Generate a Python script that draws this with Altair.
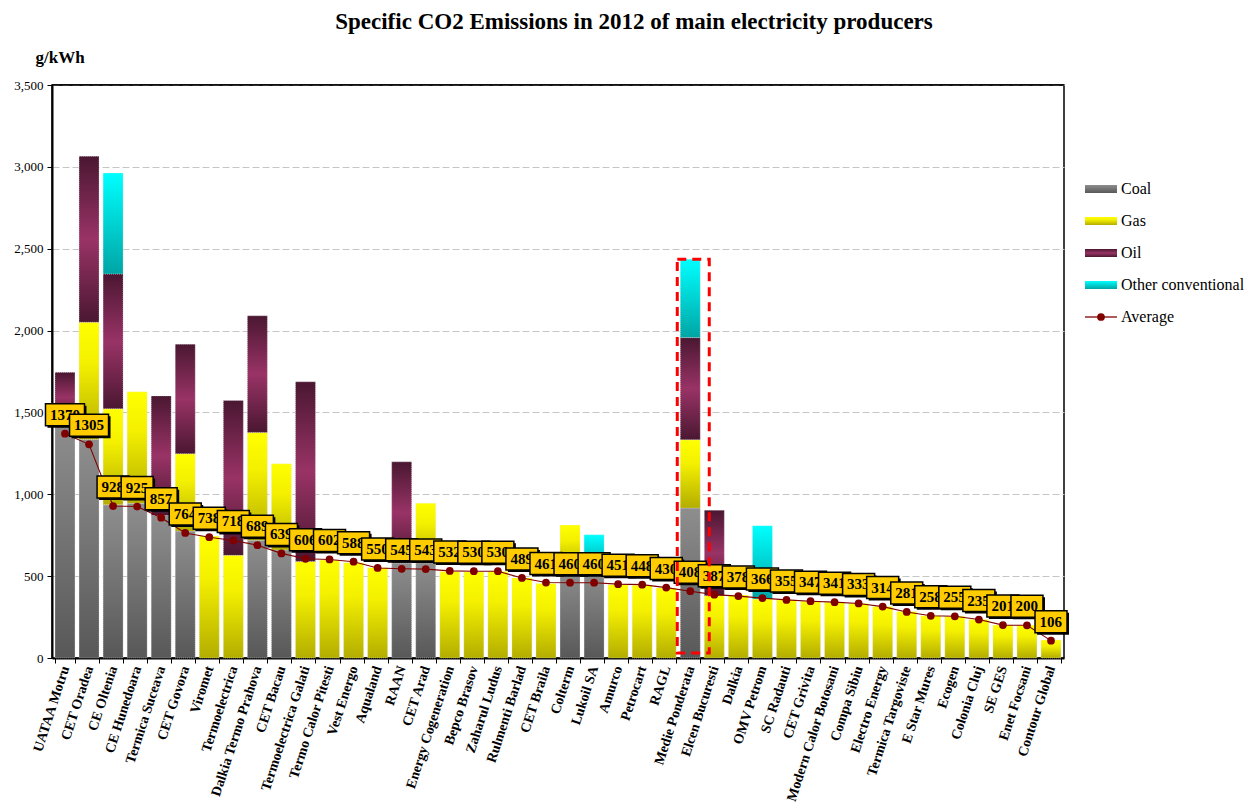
import altair as alt
import pandas as pd

# Producers, in the order plotted
names = [
    "UATAA Motru", "CET Oradea", "CE Oltenia", "CE Hunedoara", "Termica Suceava",
    "CET Govora", "Viromet", "Termoelectrica", "Dalkia Termo Prahova", "CET Bacau",
    "Termoelectrica Galati", "Termo Calor Pitesti", "Vest Energo", "Aqualand", "RAAN",
    "CET Arad", "Energy Cogeneration", "Bepco Brasov", "Zaharul Ludus", "Rulmenti Barlad",
    "CET Braila", "Colterm", "Lukoil SA", "Amurco", "Petrocart", "RAGL",
    "Medie Ponderata", "Elcen Bucuresti", "Dalkia", "OMV Petrom", "SC Radauti",
    "CET Grivita", "Modern Calor Botosani", "Compa Sibiu", "Electro Energy",
    "Termica Targoviste", "E Star Mures", "Ecogen", "Colonia Cluj", "SE GES",
    "Enet Focsani", "Contour Global",
]

# Average specific emissions (g/kWh)
average = [
    1370, 1305, 928, 925, 857, 764, 738, 718, 689, 639, 606, 602, 588, 550, 545,
    543, 532, 530, 530, 489, 461, 460, 460, 451, 448, 430, 408, 387, 378, 366,
    355, 347, 341, 333, 314, 281, 258, 255, 235, 201, 200, 106,
]

# Specific emissions by fuel (g/kWh), stacked in this order
coal = [
    1440, 1335, 936, 945, 870, 775, 0, 0, 720, 660, 0, 0, 0, 0, 580,
    582, 0, 0, 0, 0, 0, 540, 540, 0, 0, 0, 916, 0, 0, 0,
    0, 0, 0, 0, 0, 0, 0, 0, 0, 0, 0, 0,
]
gas = [
    0, 716, 586, 681, 0, 472, 745, 627, 658, 526, 590, 598, 582, 552, 0,
    364, 528, 526, 528, 489, 455, 272, 0, 448, 445, 427, 417, 380, 385, 360,
    355, 347, 341, 333, 314, 284, 258, 255, 235, 201, 200, 110,
]
oil = [
    305, 1014, 824, 0, 731, 670, 0, 946, 712, 0, 1097, 0, 0, 0, 618,
    0, 0, 0, 0, 0, 0, 0, 0, 0, 0, 0, 624, 523, 0, 0,
    0, 0, 0, 0, 0, 0, 0, 0, 0, 0, 0, 0,
]
other = [
    0, 0, 616, 0, 0, 0, 0, 0, 0, 0, 0, 0, 0, 0, 0,
    0, 0, 0, 0, 0, 0, 0, 213, 0, 0, 0, 479, 0, 0, 448,
    0, 0, 0, 0, 0, 0, 0, 0, 0, 0, 0, 0,
]

fuels = ["Coal", "Gas", "Oil", "Other conventional"]
highlighted = "Medie Ponderata"
highlight_floor = 30

SERIF = "Liberation Serif"
AVG_COLOR = "#800000"
PLOT_W, PLOT_H = 1012, 573


def vgrad(stops):
    return alt.LinearGradient(
        gradient="linear", x1=0, y1=0, x2=0, y2=1,
        stops=[alt.GradientStop(offset=o, color=c) for o, c in stops],
    )


fills = {
    "Coal": vgrad([(0, "#8e8e8e"), (1, "#585858")]),
    "Gas": vgrad([(0, "#ffff00"), (0.35, "#f4f000"), (1, "#b3ad00")]),
    "Oil": vgrad([(0, "#4a1731"), (0.5, "#993366"), (1, "#4a1731")]),
    "Other conventional": vgrad([(0, "#00ffff"), (1, "#00a5a5")]),
}

# Stacked segments per producer
rows = []
for i, n in enumerate(names):
    base = 0
    for f, vals in zip(fuels, [coal, gas, oil, other]):
        v = vals[i]
        if v > 0:
            rows.append({"name": n, "fuel": f, "y0": base, "y1": base + v})
            base += v
seg = pd.DataFrame(rows)

avg_df = pd.DataFrame({"idx": range(len(names)), "name": names, "avg": average})

hi_idx = names.index(highlighted)
hi_total = coal[hi_idx] + gas[hi_idx] + oil[hi_idx] + other[hi_idx]
hi_df = pd.DataFrame({"name": [highlighted], "lo": [highlight_floor], "hi": [hi_total]})

x_axis = alt.Axis(
    title=None, labelAngle=288, labelFont=SERIF, labelFontSize=14,
    labelFontWeight="bold", labelColor="black", tickBand="extent", tickSize=5,
    tickColor="black", domainColor="black", domainWidth=2, labelPadding=3,
    labelOverlap=False, grid=False,
)
y_axis = alt.Axis(
    title="g/kWh", format=",.0f", values=list(range(0, 3501, 500)),
    titleAngle=0, titleAlign="left", titleBaseline="alphabetic",
    titleX=-17, titleY=-23, titleFont=SERIF, titleFontSize=17,
    titleFontWeight="bold", titleColor="black",
    labelFont=SERIF, labelFontSize=13, labelColor="black", labelPadding=4,
    tickColor="black", tickSize=5, domainColor="black", domainWidth=2,
    grid=True, gridColor="#c6c6c6", gridDash=[7, 3], gridWidth=1,
)

x_enc = alt.X("name:N", sort=names,
              scale=alt.Scale(paddingInner=0.17, paddingOuter=0.125),
              axis=x_axis)
y_scale = alt.Scale(domain=[0, 3500], nice=False)


def y_of(field):
    return alt.Y(field, scale=y_scale, axis=y_axis)


layers = []

# Stacked fuel bars
for f in fuels:
    layers.append(
        alt.Chart(seg[seg["fuel"] == f])
        .mark_bar(fill=fills[f], stroke="#e8e8e8", strokeWidth=0.5, strokeDash=[1, 1])
        .encode(x=x_enc, y=y_of("y1:Q"), y2="y0:Q")
    )

# Average line with markers
layers.append(
    alt.Chart(avg_df).mark_line(color=AVG_COLOR, strokeWidth=1.1)
    .encode(x=x_enc, y=y_of("avg:Q"))
)
layers.append(
    alt.Chart(avg_df).mark_circle(color=AVG_COLOR, size=60, opacity=1)
    .encode(x=x_enc, y=y_of("avg:Q"))
)

# Value boxes: each drawn after the previous one so it covers its right side
for i, v in enumerate(average):
    w = 39 if v >= 1000 else 32
    base = alt.Chart(avg_df).transform_filter(alt.datum.idx == i)
    layers.append(
        base.mark_bar(width=w, color="black", xOffset=2, yOffset=-28, y2Offset=-6)
        .encode(x=x_enc, y=y_of("avg:Q"), y2="avg:Q")
    )
    layers.append(
        base.mark_bar(width=w, color="#ffcc00", stroke="black", strokeWidth=1.5,
                      yOffset=-30, y2Offset=-8)
        .encode(x=x_enc, y=y_of("avg:Q"), y2="avg:Q")
    )
    layers.append(
        base.mark_text(align="left", baseline="middle", dx=-w / 2 + 4.5, dy=-19,
                       font=SERIF, fontSize=15, fontWeight="bold", color="black")
        .encode(x=x_enc, y=y_of("avg:Q"), text="avg:Q")
    )

# Dashed frame around the weighted average
layers.append(
    alt.Chart(hi_df)
    .mark_bar(filled=False, stroke="#ff0000", strokeWidth=3, strokeDash=[9, 6],
              width=32, xOffset=3)
    .encode(x=x_enc, y=y_of("hi:Q"), y2="lo:Q")
)

one = pd.DataFrame({"k": [0]})

# Solid top edge of the plot frame
layers.append(
    alt.Chart(one).mark_rule(color="black", strokeWidth=1.5)
    .encode(x=alt.value(0), x2=alt.value(PLOT_W), y=alt.value(0))
)

# Legend
leg_x0, leg_x1, leg_tx = 1033, 1065, 1069
leg_rows = [104, 136, 168, 200, 232]
for f, ly in zip(fuels, leg_rows):
    layers.append(
        alt.Chart(one).mark_rect(fill=fills[f])
        .encode(x=alt.value(leg_x0), x2=alt.value(leg_x1),
                y=alt.value(ly - 4), y2=alt.value(ly + 4))
    )
    layers.append(
        alt.Chart(one).mark_text(align="left", baseline="middle", font=SERIF,
                                 fontSize=16, color="black")
        .encode(x=alt.value(leg_tx), y=alt.value(ly), text=alt.value(f))
    )
ly = leg_rows[-1]
layers.append(
    alt.Chart(one).mark_rule(color=AVG_COLOR, strokeWidth=1.3)
    .encode(x=alt.value(leg_x0), x2=alt.value(leg_x1), y=alt.value(ly))
)
layers.append(
    alt.Chart(one).mark_circle(color=AVG_COLOR, size=60, opacity=1)
    .encode(x=alt.value((leg_x0 + leg_x1) / 2), y=alt.value(ly))
)
layers.append(
    alt.Chart(one).mark_text(align="left", baseline="middle", font=SERIF,
                             fontSize=16, color="black")
    .encode(x=alt.value(leg_tx), y=alt.value(ly), text=alt.value("Average"))
)

chart = (
    alt.layer(*layers)
    .properties(
        width=PLOT_W, height=PLOT_H,
        title=alt.TitleParams(
            text="Specific CO2 Emissions in 2012 of main electricity producers",
            font=SERIF, fontSize=23, fontWeight="bold", color="black",
            anchor="middle", dx=76, offset=14, frame="group",
        ),
        autosize=alt.AutoSizeParams(type="none"),
        padding={"left": 52, "top": 85, "right": 195, "bottom": 149},
        background="white",
    )
    .configure_view(stroke="black", strokeWidth=1.5)
)

chart.save("out.html", embed_options={"renderer": "svg", "actions": False})
